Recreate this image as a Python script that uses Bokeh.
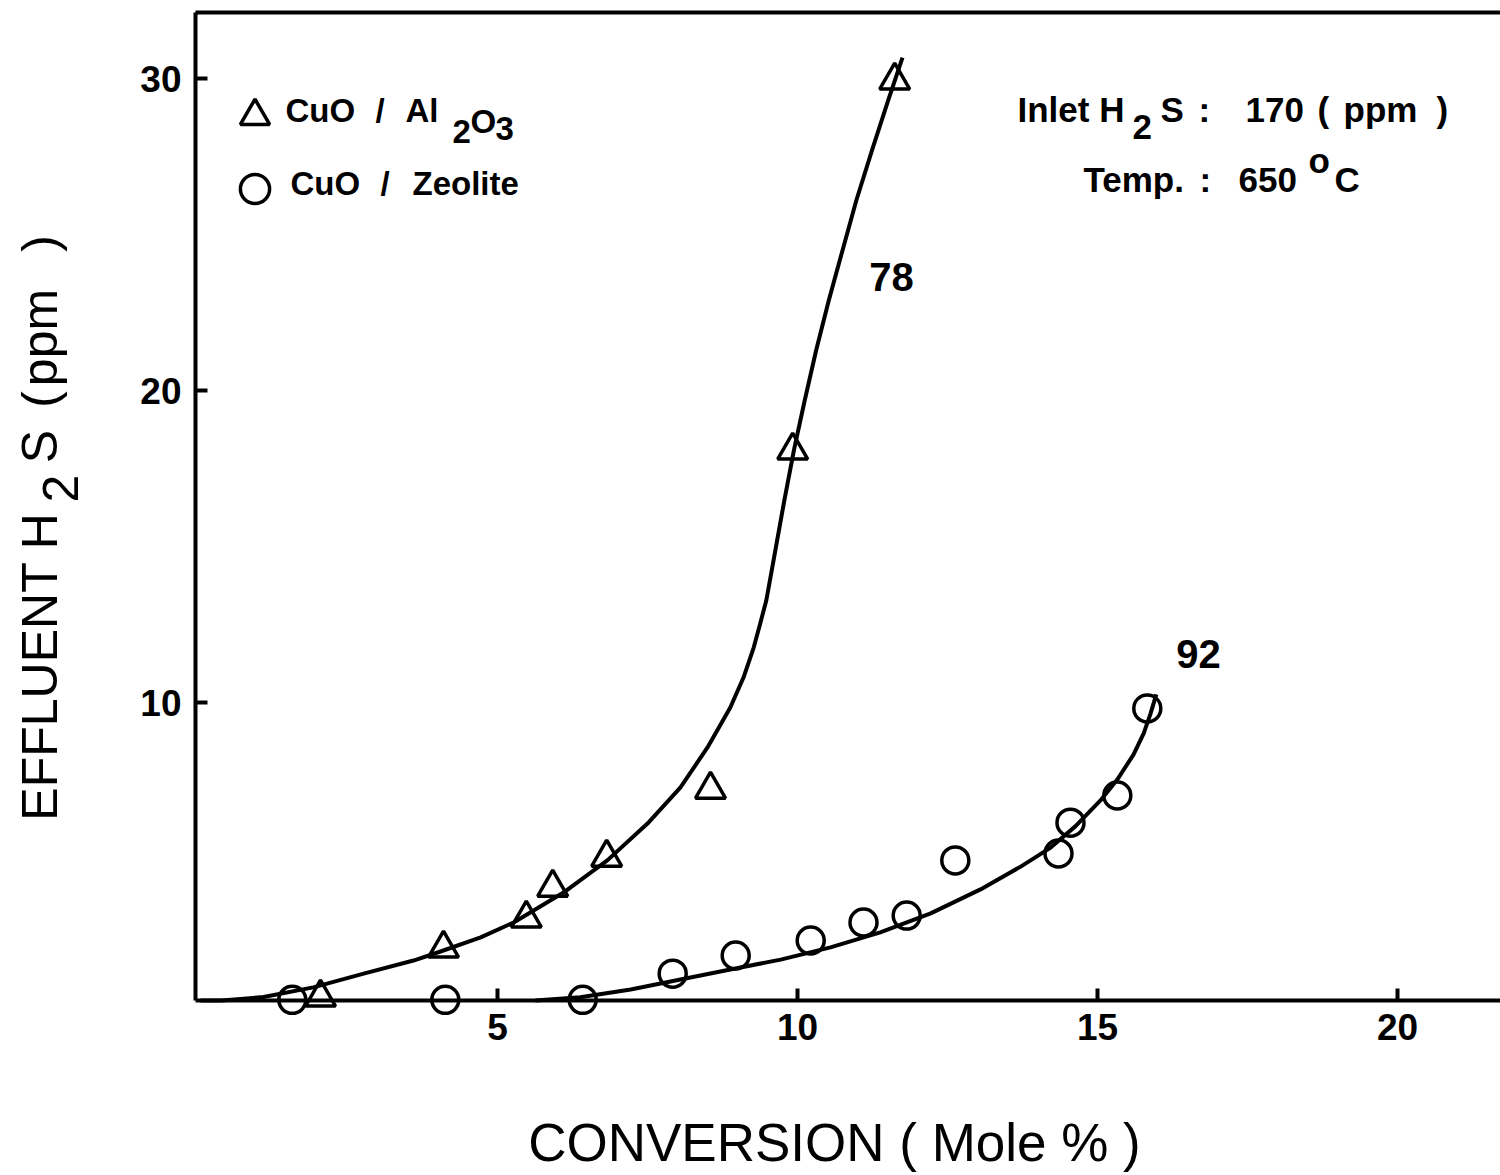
import math
from bokeh.plotting import figure
from bokeh.models import (Range1d, LinearAxis, FixedTicker, Label, Legend,
                          LegendItem, ColumnDataSource)
from bokeh.embed import file_html
from bokeh.resources import INLINE

# ---------------- data ----------------
# CuO / Al2O3 (triangles)
al_conv = [2.05, 4.10, 5.48, 5.92, 6.82, 8.55, 9.92, 11.62]
al_h2s = [0.55, 2.12, 3.08, 4.07, 5.03, 7.21, 18.08, 29.94]
# CuO / Zeolite (circles)
ze_conv = [1.58, 4.13, 6.42, 7.92, 8.97, 10.22, 11.10, 11.82, 12.63, 14.35, 14.55, 15.33, 15.83]
ze_h2s = [0.47, 0.47, 0.47, 1.31, 1.89, 2.37, 2.95, 3.17, 4.94, 5.16, 6.15, 7.02, 9.81]

# hand-drawn fitted curves
al_fit_x = [0.05, 0.40, 1.10, 1.93, 2.77, 3.60, 4.05, 4.72, 5.27, 6.10, 6.83, 7.50, 8.05,
            8.50, 8.88, 9.10, 9.27, 9.37, 9.48, 9.63, 9.78, 9.94, 10.12, 10.31, 10.52,
            10.75, 10.98, 11.24, 11.51, 11.75]
al_fit_y = [0.45, 0.45, 0.56, 0.87, 1.31, 1.73, 2.02, 2.47, 2.95, 3.91, 4.94, 6.12, 7.28,
            8.56, 9.84, 10.80, 11.76, 12.47, 13.27, 14.87, 16.47, 18.08, 19.68, 21.28, 22.88,
            24.49, 26.09, 27.69, 29.29, 30.67]
ze_fit_x = [5.63, 6.38, 7.22, 8.05, 8.88, 9.72, 10.55, 11.38, 12.22, 13.05, 13.72, 14.22,
            14.63, 15.05, 15.33, 15.60, 15.77, 15.88, 15.98]
ze_fit_y = [0.45, 0.55, 0.80, 1.12, 1.44, 1.76, 2.15, 2.63, 3.24, 4.01, 4.74, 5.35,
            6.03, 6.86, 7.53, 8.33, 9.01, 9.62, 10.26]

x_ticks = [5, 10, 15, 20]
y_ticks = [10, 20, 30]
al_end_label = "78"
ze_end_label = "92"

FONT = "Liberation Sans"

# axis extents (data units)
X0, X1 = -0.0333, 21.7167
Y0, Y1 = 0.449, 32.115

# ---------------- figure ----------------
p = figure(width=1500, height=1175, output_backend="svg", toolbar_location=None,
           title=None, x_range=Range1d(-3.2833, 21.7167), y_range=Range1d(-5.16, 32.5),
           x_axis_type=None, y_axis_type=None,
           min_border_left=0, min_border_right=0, min_border_top=0, min_border_bottom=0)
p.outline_line_color = None
p.background_fill_color = "white"
p.border_fill_color = "white"


def style_axis(ax, standoff):
    ax.axis_line_width = 4
    ax.axis_line_color = "black"
    ax.major_tick_in = 12
    ax.major_tick_out = 0
    ax.major_tick_line_width = 4
    ax.minor_tick_line_color = None
    ax.major_label_text_font = FONT
    ax.major_label_text_font_style = "bold"
    ax.major_label_text_font_size = "37px"
    ax.major_label_text_color = "black"
    ax.major_label_standoff = standoff


xaxis = LinearAxis(ticker=FixedTicker(ticks=x_ticks), fixed_location=Y0, bounds=(X0, X1))
style_axis(xaxis, 14)
p.add_layout(xaxis, "below")

yaxis = LinearAxis(ticker=FixedTicker(ticks=y_ticks), fixed_location=X0, bounds=(Y0, Y1))
style_axis(yaxis, 14)
p.add_layout(yaxis, "left")

top = LinearAxis(ticker=FixedTicker(ticks=[]), fixed_location=Y1, bounds=(X0, X1),
                 axis_line_width=4, axis_line_color="black",
                 major_tick_in=0, major_tick_out=0, minor_tick_in=0, minor_tick_out=0,
                 major_label_text_font_size="0px", major_label_standoff=0)
p.add_layout(top, "above")

# curves
p.line(al_fit_x, al_fit_y, line_color="black", line_width=4, line_join="round")
p.line(ze_fit_x, ze_fit_y, line_color="black", line_width=4, line_join="round")

# points
src_al = ColumnDataSource(dict(x=al_conv, y=al_h2s))
src_ze = ColumnDataSource(dict(x=ze_conv, y=ze_h2s))
r_al = p.scatter("x", "y", source=src_al, marker="triangle", size=30,
                 fill_color="white", fill_alpha=0, line_color="black", line_width=3.5)
r_ze = p.scatter("x", "y", source=src_ze, marker="circle", size=27,
                 fill_color="white", fill_alpha=0, line_color="black", line_width=3.5)

legend = Legend(items=[LegendItem(label=" ", renderers=[r_al]),
                       LegendItem(label=" ", renderers=[r_ze])],
                location=(218, 950), glyph_width=73, glyph_height=73, spacing=0,
                padding=0, margin=0, border_line_color=None, background_fill_alpha=0,
                label_text_font_size="1px", label_standoff=0, label_width=0, label_height=0)
p.add_layout(legend)


# ---------------- texts ----------------
def X(px):
    return (px - 197) / 60.0


def Y(py):
    return (1014 - py) / 31.2


def txt(s, pos, base, size, bold=True, align="left", angle=0.0):
    """Horizontal text: pos = x px, base = baseline y px.
    Vertical text (angle=90deg): pos = y px along the text, base = baseline x px."""
    shift = 0.36 * size
    if angle:
        px, py = base - shift, pos
    else:
        px, py = pos, base - shift
    p.add_layout(Label(x=X(px), y=Y(py), text=s, text_font=FONT,
                       text_font_size=f"{size}px",
                       text_font_style="bold" if bold else "normal",
                       text_align=align, text_baseline="middle", angle=angle,
                       text_color="black"))


# legend texts
txt("CuO", 285, 122, 33)
txt("/", 375, 122, 33)
txt("Al", 405, 122, 33)
txt("2", 452, 143, 33)
txt("O", 470, 133, 33)
txt("3", 495, 140, 33)
txt("CuO", 290, 195, 33)
txt("/", 380, 195, 33)
txt("Zeolite", 412, 195, 33)

# conditions
txt("Inlet H", 1017, 122, 35)
txt("2", 1132, 139, 35)
txt("S", 1160, 122, 35)
txt(":", 1198, 122, 35)
txt("170", 1245, 122, 35)
txt("(", 1317, 122, 35)
txt("ppm", 1343, 122, 35)
txt(")", 1436, 122, 35)
txt("Temp.", 1083, 192, 35)
txt(":", 1199, 192, 35)
txt("650", 1238, 192, 35)
txt("o", 1308, 173, 35)
txt("C", 1334, 192, 35)

# curve end labels
txt(al_end_label, 891, 291, 40, align="center")
txt(ze_end_label, 1198, 668, 40, align="center")

# axis titles
txt("CONVERSION ( Mole % )", 834, 1161, 53, bold=False, align="center")
A = math.pi / 2
txt("EFFLUENT H", 666, 58, 50, bold=False, align="center", angle=A)
txt("2", 488, 78, 50, bold=False, align="center", angle=A)
txt("S", 446, 58, 50, bold=False, align="center", angle=A)
txt("(", 399, 58, 50, bold=False, align="center", angle=A)
txt("ppm", 337, 58, 50, bold=False, align="center", angle=A)
txt(")", 243, 58, 50, bold=False, align="center", angle=A)

open("out.html", "w").write(file_html(p, INLINE))
